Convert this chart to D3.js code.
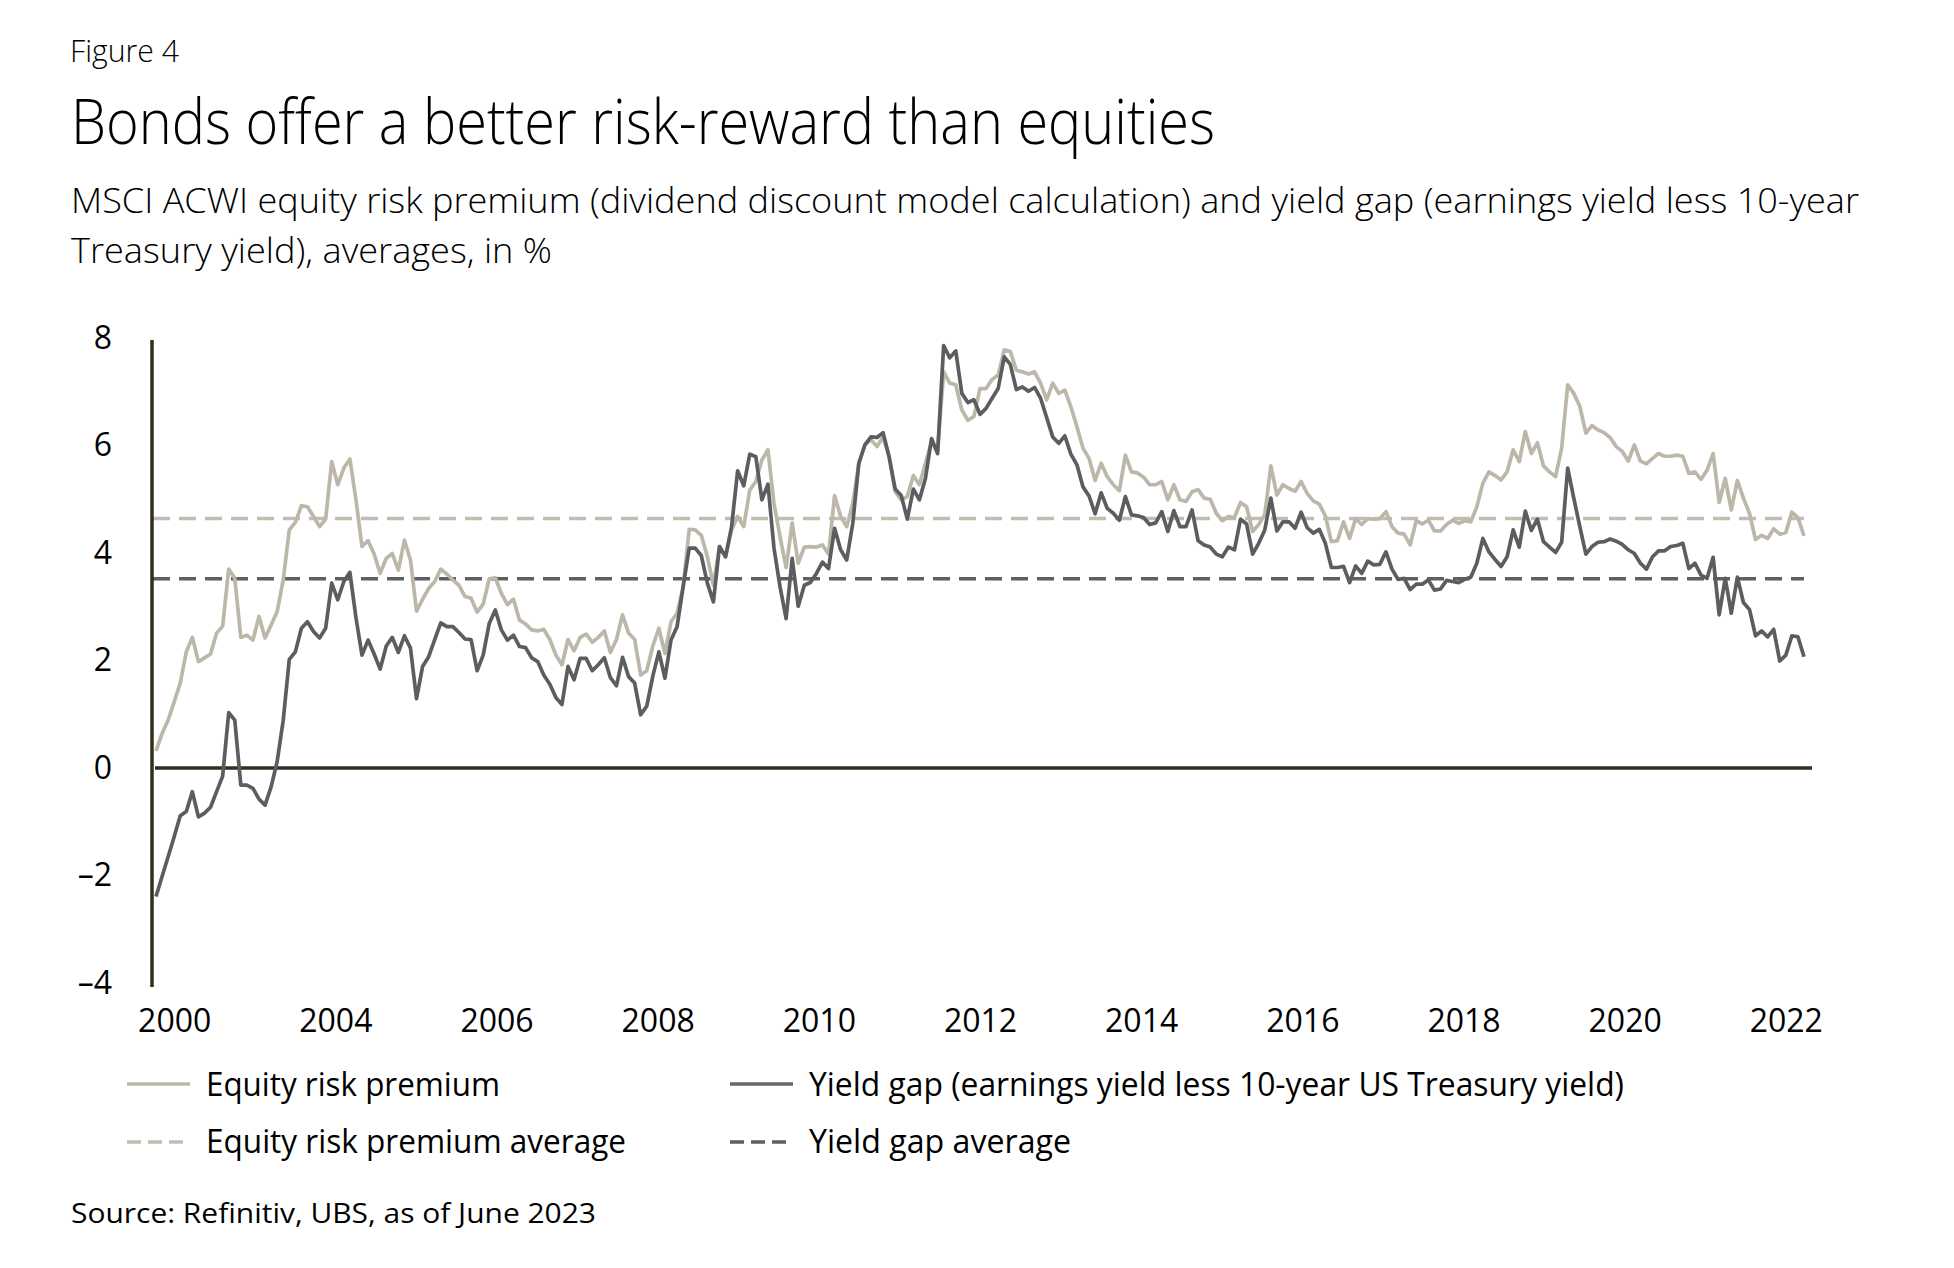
<!DOCTYPE html>
<html><head><meta charset="utf-8">
<script src="https://cdn.jsdelivr.net/npm/d3@7"></script>
<style>
body{margin:0;background:#fff;}
svg{display:block;}
text{font-family:"Open Sans",sans-serif;fill:#000;}
</style>
</head><body>
<svg id="chart" width="1954" height="1268"></svg>
<script>
// Monthly observations (Oct 2000 - Jun 2023), in %
const equityRiskPremium = [
0.32,0.64,0.89,1.23,1.58,2.16,2.43,1.98,2.05,2.12,
2.51,2.64,3.70,3.53,2.43,2.47,2.38,2.82,2.42,2.66,
2.91,3.50,4.43,4.57,4.88,4.86,4.68,4.49,4.63,5.70,
5.27,5.58,5.75,4.99,4.12,4.23,3.98,3.62,3.90,3.99,
3.68,4.24,3.87,2.92,3.14,3.34,3.47,3.70,3.61,3.50,
3.40,3.19,3.16,2.90,3.05,3.52,3.54,3.25,3.04,3.14,
2.75,2.68,2.57,2.55,2.58,2.39,2.10,1.92,2.39,2.18,
2.43,2.49,2.34,2.43,2.55,2.15,2.39,2.85,2.51,2.39,
1.73,1.81,2.27,2.60,2.13,2.72,
2.88,3.37,4.44,4.43,4.33,3.93,3.40,4.12,3.93,4.43,
4.68,4.49,5.17,5.33,5.73,5.92,4.92,4.30,3.73,4.56,
3.81,4.11,4.12,4.11,4.15,3.98,5.07,4.68,4.49,4.92,
5.67,6.01,6.11,5.98,6.16,5.79,5.14,4.99,5.05,5.44,
5.27,5.67,6.07,5.89,7.37,7.16,7.13,6.66,6.47,6.54,
7.06,7.06,7.23,7.31,7.78,7.75,7.40,7.37,7.33,7.37,
7.16,6.85,7.16,6.97,7.03,6.72,6.35,5.95,5.76,5.35,
5.67,5.42,5.27,5.16,5.82,5.51,5.49,5.41,5.27,5.27,
5.33,4.99,
5.27,4.99,4.96,5.14,5.18,5.02,5.00,4.74,4.60,4.68,
4.66,4.94,4.86,4.40,4.53,4.71,5.62,5.08,5.27,5.20,
5.15,5.33,5.11,4.97,4.91,4.69,4.21,4.23,4.58,4.27,
4.64,4.53,4.64,4.63,4.64,4.77,4.49,4.37,4.35,4.15,
4.60,4.54,4.61,4.41,4.41,4.53,4.61,4.55,4.60,4.58,
4.86,5.30,5.51,5.44,5.36,5.51,5.92,5.70,6.26,5.85,
6.05,5.62,5.51,5.42,5.95,7.13,6.97,6.73,6.23,6.37,
6.29,6.24,6.15,5.98,5.89,5.71,6.01,5.71,5.66,5.76,
5.85,5.80,5.80,
5.82,5.80,5.48,5.51,5.37,5.54,5.85,4.94,5.39,4.80,
5.35,5.02,4.74,4.25,4.33,4.27,4.45,4.35,4.38,4.76,
4.66,4.32
];
const yieldGap = [
-2.39,-2.02,-1.65,-1.28,-0.89,-0.81,-0.44,-0.91,-0.84,-0.73,
-0.44,-0.15,1.03,0.89,-0.32,-0.32,-0.38,-0.58,-0.69,-0.35,
0.12,0.89,2.02,2.16,2.60,2.72,2.54,2.42,2.60,3.44,
3.13,3.47,3.64,2.80,2.10,2.38,2.12,1.84,2.27,2.43,
2.15,2.46,2.23,1.29,1.89,2.07,2.39,2.70,2.63,2.63,
2.52,2.40,2.39,1.81,2.10,2.69,2.94,2.57,2.38,2.47,
2.26,2.24,2.05,1.98,1.73,1.56,1.31,1.18,1.89,1.64,
2.04,2.04,1.81,1.92,2.05,1.68,1.53,2.06,1.70,1.58,
0.99,1.15,1.71,2.16,1.67,2.38,
2.63,3.37,4.09,4.09,3.95,3.44,3.09,4.12,3.93,4.49,
5.53,5.25,5.84,5.79,4.99,5.28,4.09,3.37,2.78,3.90,
3.01,3.40,3.45,3.62,3.83,3.71,4.46,4.06,3.87,4.55,
5.67,6.01,6.16,6.15,6.24,5.79,5.19,5.07,4.63,5.19,
4.99,5.39,6.13,5.85,7.86,7.63,7.76,6.97,6.80,6.85,
6.58,6.69,6.88,7.06,7.65,7.51,7.04,7.09,7.01,7.08,
6.88,6.52,6.16,6.04,6.18,5.84,5.64,5.23,5.06,4.73,
5.12,4.83,4.74,4.61,5.05,4.71,4.69,4.66,4.53,4.56,
4.77,4.40,
4.79,4.49,4.49,4.80,4.23,4.15,4.11,3.98,3.93,4.11,
4.06,4.63,4.54,3.98,4.18,4.43,5.02,4.41,4.58,4.58,
4.46,4.76,4.47,4.37,4.44,4.18,3.73,3.73,3.75,3.45,
3.76,3.62,3.85,3.78,3.79,4.02,3.70,3.51,3.53,3.32,
3.42,3.42,3.50,3.31,3.33,3.49,3.47,3.45,3.51,3.55,
3.81,4.27,4.02,3.88,3.75,3.93,4.43,4.11,4.78,4.42,
4.63,4.21,4.11,4.01,4.20,5.58,5.02,4.49,3.98,4.12,
4.20,4.21,4.26,4.22,4.16,4.06,3.99,3.81,3.70,3.93,
4.04,4.04,4.12,
4.14,4.18,3.71,3.81,3.59,3.53,3.92,2.85,3.53,2.88,
3.55,3.08,2.95,2.46,2.55,2.44,2.58,1.99,2.10,2.46,
2.44,2.07
];
const equityRiskPremiumAverage = 4.64;
const yieldGapAverage = 3.52;

const yTicks = [-4, -2, 0, 2, 4, 6, 8];
const xTickLabels = ["2000","2004","2006","2008","2010","2012","2014","2016","2018","2020","2022"];
// positions of the printed year labels, in observation index units
const xTickIndex = [3, 29.6, 56.2, 82.8, 109.4, 136, 162.6, 189.2, 215.8, 242.4, 269];

const legendItems = [
  {label: "Equity risk premium", key: "erp", dashed: false},
  {label: "Yield gap (earnings yield less 10-year US Treasury yield)", key: "yg", dashed: false},
  {label: "Equity risk premium average", key: "erp", dashed: true},
  {label: "Yield gap average", key: "yg", dashed: true}
];

const colors = {erp: "#bcb7a9", yg: "#5c5d5e", erpAvg: "#c2bdb1", ygAvg: "#5e5f60", axis: "#342e1e"};

const svg = d3.select("#chart");
svg.append("rect").attr("width",1954).attr("height",1268).attr("fill","#fff");

function fit(sel, w){ sel.attr("textLength", w).attr("lengthAdjust","spacingAndGlyphs"); return sel; }

// Titles
fit(svg.append("text").attr("x",70).attr("y",62).attr("font-size",31).attr("font-weight",300).text("Figure 4"), 109);
fit(svg.append("text").attr("x",71).attr("y",144).attr("font-size",62).attr("font-weight",300).text("Bonds offer a better risk-reward than equities"), 1144);
fit(svg.append("text").attr("x",71).attr("y",213).attr("font-size",34).attr("font-weight",300)
  .text("MSCI ACWI equity risk premium (dividend discount model calculation) and yield gap (earnings yield less 10-year"), 1788);
fit(svg.append("text").attr("x",71).attr("y",263).attr("font-size",34).attr("font-weight",300).text("Treasury yield), averages, in %"), 481);

// Scales
const n = yieldGap.length;
const x = d3.scaleLinear().domain([0, n - 1]).range([156, 1804]);
const y = d3.scaleLinear().domain([-4, 8]).range([983, 338]);

// Y axis labels
const yAxis = d3.axisLeft(y).tickValues(yTicks).tickSize(0).tickPadding(40)
  .tickFormat(d => d < 0 ? "\u2013" + Math.abs(d) : String(d));
const gy = svg.append("g").attr("transform","translate(152,0)").call(yAxis);
gy.select(".domain").remove();
gy.selectAll("text").attr("font-size",32).attr("font-family","Open Sans").attr("fill","#000");

// X axis labels
const xAxis = d3.axisBottom(x).tickValues(xTickIndex).tickSize(0).tickPadding(26)
  .tickFormat((d,i) => xTickLabels[i]);
const gx = svg.append("g").attr("transform","translate(0,983)").call(xAxis);
gx.select(".domain").remove();
gx.selectAll("text").attr("font-size",32).attr("font-family","Open Sans").attr("fill","#000");

// Average lines
svg.append("line").attr("x1",x(0)-3).attr("x2",x(n-1)).attr("y1",y(equityRiskPremiumAverage)).attr("y2",y(equityRiskPremiumAverage))
  .attr("stroke",colors.erpAvg).attr("stroke-width",3.5).attr("stroke-dasharray","17,9");
svg.append("line").attr("x1",x(0)-3).attr("x2",x(n-1)).attr("y1",y(yieldGapAverage)).attr("y2",y(yieldGapAverage))
  .attr("stroke",colors.ygAvg).attr("stroke-width",3.5).attr("stroke-dasharray","17,9");

// Zero line and y axis line
svg.append("line").attr("x1",x(0)-1).attr("x2",x(n-1)+8).attr("y1",y(0)).attr("y2",y(0))
  .attr("stroke",colors.axis).attr("stroke-width",3.5);
svg.append("line").attr("x1",152).attr("x2",152).attr("y1",y(8)+2).attr("y2",y(-4)+4)
  .attr("stroke",colors.axis).attr("stroke-width",3.5);

// Series
const line = d3.line().x((d,i) => x(i)).y(d => y(d));
svg.append("path").datum(equityRiskPremium).attr("d", line).attr("fill","none")
  .attr("stroke",colors.erp).attr("stroke-width",3.7).attr("stroke-linejoin","round");
svg.append("path").datum(yieldGap).attr("d", line).attr("fill","none")
  .attr("stroke",colors.yg).attr("stroke-width",3.7).attr("stroke-linejoin","round");

// Legend
const legendPos = [
  {lx:127, ly:1084, tx:206, ty:1096, w:294},
  {lx:730, ly:1084, tx:809, ty:1096, w:815},
  {lx:127, ly:1142, tx:206, ty:1153, w:420},
  {lx:730, ly:1142, tx:809, ty:1153, w:262}
];
legendItems.forEach((it, i) => {
  const p = legendPos[i];
  const col = it.dashed ? (it.key === "erp" ? colors.erpAvg : colors.ygAvg) : (it.key === "erp" ? colors.erp : "#666768");
  svg.append("line").attr("x1",p.lx).attr("x2",p.lx + (it.dashed ? 57 : 63)).attr("y1",p.ly).attr("y2",p.ly)
    .attr("stroke",col).attr("stroke-width",3.5).attr("stroke-dasharray", it.dashed ? "14,7" : null);
  fit(svg.append("text").attr("x",p.tx).attr("y",p.ty).attr("font-size",32).text(it.label), p.w);
});

// Source
fit(svg.append("text").attr("x",71).attr("y",1223).attr("font-size",28).text("Source: Refinitiv, UBS, as of June 2023"), 525);
</script>
</body></html>
